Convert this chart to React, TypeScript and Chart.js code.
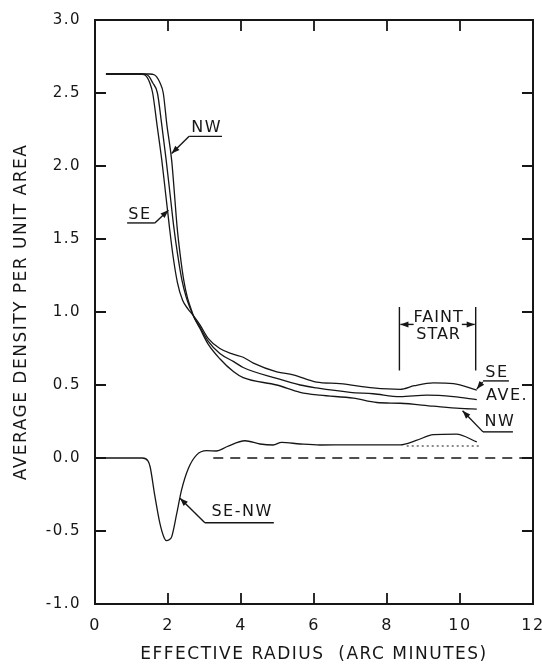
import React, { useEffect, useRef } from "react";
import { Chart, registerables } from "chart.js";

Chart.register(...registerables);

// ---- data ----
const xTickValues = [0, 2, 4, 6, 8, 10, 12];
const yTickValues = [-1.0, -0.5, 0.0, 0.5, 1.0, 1.5, 2.0, 2.5, 3.0];

const radiusSE = [0.3, 1.2, 1.35, 1.42, 1.5, 1.58, 1.7, 1.83, 1.94, 2.04, 2.14, 2.26, 2.4, 2.55, 2.68, 2.88, 3.1, 3.42, 3.8, 4.06, 4.34, 4.98, 5.43, 6.07, 6.71, 7.62, 8.36, 8.75, 9.27, 9.82, 10.46];
const densitySE = [2.63, 2.63, 2.625, 2.61, 2.57, 2.5, 2.28, 2.04, 1.8, 1.58, 1.38, 1.2, 1.08, 1.02, 0.98, 0.91, 0.82, 0.75, 0.71, 0.69, 0.65, 0.59, 0.57, 0.52, 0.51, 0.48, 0.47, 0.495, 0.515, 0.51, 0.465];

const radiusAVE = [0.3, 1.3, 1.42, 1.49, 1.58, 1.71, 1.83, 1.95, 2.06, 2.16, 2.26, 2.38, 2.5, 2.6, 2.7, 2.88, 3.1, 3.42, 3.8, 4.06, 4.98, 5.62, 6.07, 6.99, 7.62, 8.36, 9.09, 9.82, 10.46];
const densityAVE = [2.63, 2.63, 2.625, 2.61, 2.57, 2.5, 2.28, 2.04, 1.8, 1.58, 1.4, 1.22, 1.1, 1.03, 0.97, 0.895, 0.8, 0.715, 0.66, 0.62, 0.545, 0.5, 0.48, 0.45, 0.44, 0.42, 0.43, 0.42, 0.4];

const radiusNW = [0.3, 1.5, 1.62, 1.69, 1.78, 1.87, 1.97, 2.1, 2.18, 2.25, 2.33, 2.43, 2.53, 2.62, 2.72, 2.88, 3.1, 3.42, 3.8, 4.06, 4.98, 5.62, 6.16, 7.08, 7.72, 8.36, 9.27, 10.0, 10.46];
const densityNW = [2.63, 2.63, 2.625, 2.61, 2.57, 2.5, 2.28, 2.04, 1.8, 1.58, 1.4, 1.22, 1.1, 1.03, 0.96, 0.885, 0.78, 0.68, 0.59, 0.55, 0.5, 0.45, 0.43, 0.41, 0.38, 0.375, 0.355, 0.34, 0.335];

const radiusDiff = [0.3, 1.3, 1.45, 1.51, 1.64, 1.78, 1.9, 1.96, 2.03, 2.1, 2.24, 2.37, 2.56, 2.78, 3.06, 3.33, 3.61, 4.11, 4.52, 4.88, 5.11, 5.62, 6.16, 7.0, 8.36, 8.8, 9.27, 9.9, 10.46];
const densityDiff = [0, 0, -0.02, -0.06, -0.26, -0.45, -0.55, -0.566, -0.56, -0.54, -0.38, -0.22, -0.07, 0.02, 0.05, 0.048, 0.077, 0.118, 0.096, 0.089, 0.107, 0.096, 0.089, 0.09, 0.09, 0.12, 0.16, 0.164, 0.11];

const radiusCorrected = [8.54, 10.55];
const densityCorrected = [0.082, 0.082];

const radiusZero = [3.24, 12];
const densityZero = [0, 0];

const FONT = '"DejaVu Sans", "Liberation Sans", sans-serif';
const INK = "#161616";

const zip = (xs: number[], ys: number[]) => xs.map((x, i) => ({ x, y: ys[i] }));

// annotation anchors in data units
type Label = {
  text: string;
  x: number;
  y: number;
  underline?: [number, number, number];
  arrow?: [number, number, number, number];
};
const curveLabels: Label[] = [
  { text: "NW", x: 3.04, y: 2.262, underline: [2.58, 3.48, 2.203], arrow: [2.58, 2.203, 2.1, 2.085] },
  { text: "SE", x: 1.21, y: 1.666, underline: [0.88, 1.64, 1.61], arrow: [1.64, 1.61, 2.01, 1.697] },
  { text: "SE", x: 10.99, y: 0.581, underline: [10.63, 11.34, 0.528], arrow: [10.62, 0.521, 10.46, 0.472] },
  { text: "AVE.", x: 11.27, y: 0.424 },
  { text: "NW", x: 11.07, y: 0.246, underline: [10.63, 11.45, 0.179], arrow: [10.63, 0.179, 10.07, 0.323] },
  { text: "SE-NW", x: 4.01, y: -0.367, underline: [3.01, 4.9, -0.443], arrow: [3.01, -0.443, 2.33, -0.276] },
];
const faintStar = { x1: 8.34, x2: 10.43, yTop: 1.035, yBottom: 0.6, yArrow: 0.915, xTextL: 8.73, xTextR: 10.05, xText: 9.4, yLine1: 0.96, yLine2: 0.845 };

function drawArrow(ctx: CanvasRenderingContext2D, x1: number, y1: number, x2: number, y2: number) {
  ctx.beginPath();
  ctx.moveTo(x1, y1);
  ctx.lineTo(x2, y2);
  ctx.stroke();
  const a = Math.atan2(y2 - y1, x2 - x1);
  const L = 8, W = 3;
  ctx.beginPath();
  ctx.moveTo(x2, y2);
  ctx.lineTo(x2 - L * Math.cos(a) + W * Math.sin(a), y2 - L * Math.sin(a) - W * Math.cos(a));
  ctx.lineTo(x2 - L * Math.cos(a) - W * Math.sin(a), y2 - L * Math.sin(a) + W * Math.cos(a));
  ctx.closePath();
  ctx.fill();
}

// widen lettering (stencil style) for scale texts
const spacingPlugin = {
  id: "spacingPlugin",
  beforeDraw(chart: any) {
    (chart.ctx as any).letterSpacing = "1.5px";
  },
  beforeDatasetsDraw(chart: any) {
    (chart.ctx as any).letterSpacing = "0px";
  },
};

const framePlugin = {
  id: "framePlugin",
  afterDraw(chart: any) {
    const { ctx, chartArea } = chart;
    const xs = chart.scales.x;
    const ys = chart.scales.y;
    const { left, right, top, bottom } = chartArea;
    ctx.save();
    (ctx as any).letterSpacing = "0px";
    ctx.strokeStyle = INK;
    ctx.fillStyle = INK;
    ctx.lineWidth = 2;
    ctx.strokeRect(left, top, right - left, bottom - top);
    const TL = 11;
    ctx.lineWidth = 1.8;
    xs.ticks.forEach((t: any) => {
      const px = xs.getPixelForValue(t.value);
      if (Math.abs(px - left) < 2 || Math.abs(px - right) < 2) return;
      ctx.beginPath();
      ctx.moveTo(px, bottom);
      ctx.lineTo(px, bottom - TL);
      ctx.moveTo(px, top);
      ctx.lineTo(px, top + TL);
      ctx.stroke();
    });
    ys.ticks.forEach((t: any) => {
      const py = ys.getPixelForValue(t.value);
      if (Math.abs(py - top) < 2 || Math.abs(py - bottom) < 2) return;
      ctx.beginPath();
      ctx.moveTo(left, py);
      ctx.lineTo(left + TL, py);
      ctx.moveTo(right, py);
      ctx.lineTo(right - TL, py);
      ctx.stroke();
    });

    // labels
    ctx.font = `16px ${FONT}`;
    ctx.textAlign = "center";
    ctx.textBaseline = "middle";
    ctx.lineWidth = 1.4;
    const X = (v: number) => xs.getPixelForValue(v);
    const Y = (v: number) => ys.getPixelForValue(v);
    curveLabels.forEach((l) => {
      (ctx as any).letterSpacing = "1.5px";
      ctx.fillText(l.text, X(l.x) + 0.75, Y(l.y));
      (ctx as any).letterSpacing = "0px";
      if (l.underline) {
        ctx.beginPath();
        ctx.moveTo(X(l.underline[0]), Y(l.underline[2]));
        ctx.lineTo(X(l.underline[1]), Y(l.underline[2]));
        ctx.stroke();
      }
      if (l.arrow) {
        drawArrow(ctx, X(l.arrow[0]), Y(l.arrow[1]), X(l.arrow[2]), Y(l.arrow[3]));
      }
    });

    // faint star bracket
    const f = faintStar;
    ctx.beginPath();
    ctx.moveTo(X(f.x1), Y(f.yTop));
    ctx.lineTo(X(f.x1), Y(f.yBottom));
    ctx.moveTo(X(f.x2), Y(f.yTop));
    ctx.lineTo(X(f.x2), Y(f.yBottom));
    ctx.stroke();
    drawArrow(ctx, X(f.xTextL), Y(f.yArrow), X(f.x1) + 1, Y(f.yArrow));
    drawArrow(ctx, X(f.xTextR), Y(f.yArrow), X(f.x2) - 1, Y(f.yArrow));
    (ctx as any).letterSpacing = "1px";
    ctx.fillText("FAINT", X(f.xText) + 0.5, Y(f.yLine1));
    ctx.fillText("STAR", X(f.xText) + 0.5, Y(f.yLine2));
    ctx.restore();
  },
};

export default function App() {
  const ref = useRef<HTMLCanvasElement | null>(null);
  useEffect(() => {
    if (!ref.current) return;
    const lineBase = {
      borderColor: INK,
      borderWidth: 1.3,
      pointRadius: 0,
      fill: false,
      cubicInterpolationMode: "monotone" as const,
    };
    const chart = new Chart(ref.current, {
      type: "line",
      data: {
        datasets: [
          { ...lineBase, label: "SE", data: zip(radiusSE, densitySE) },
          { ...lineBase, label: "AVE.", data: zip(radiusAVE, densityAVE) },
          { ...lineBase, label: "NW", data: zip(radiusNW, densityNW) },
          { ...lineBase, label: "SE-NW", data: zip(radiusDiff, densityDiff) },
          { ...lineBase, label: "corrected", data: zip(radiusCorrected, densityCorrected), borderDash: [2, 3], borderWidth: 1.1 },
          { ...lineBase, label: "zero", data: zip(radiusZero, densityZero), borderDash: [10, 7], borderWidth: 1.6 },
        ],
      },
      options: {
        animation: false,
        responsive: false,
        devicePixelRatio: 1,
        layout: { padding: { left: 0, top: 20, right: 0, bottom: 0 } },
        plugins: { legend: { display: false }, tooltip: { enabled: false } },
        scales: {
          x: {
            type: "linear",
            min: 0,
            max: 12,
            afterBuildTicks: (s: any) => {
              s.ticks = xTickValues.map((v) => ({ value: v }));
            },
            afterFit: (s: any) => {
              s.height = 61;
              s.paddingRight = 9;
              s.paddingLeft = 0;
            },
            grid: { display: false },
            border: { display: false },
            ticks: { color: INK, font: { family: FONT, size: 16 }, padding: 4, maxRotation: 0, callback: (v: any) => String(v) },
            title: {
              display: true,
              text: "EFFECTIVE RADIUS  (ARC MINUTES)",
              color: INK,
              font: { family: FONT, size: 17 },
              padding: { top: 0, bottom: 0 },
            },
          },
          y: {
            type: "linear",
            min: -1,
            max: 3,
            afterBuildTicks: (s: any) => {
              s.ticks = yTickValues.map((v) => ({ value: v }));
            },
            afterFit: (s: any) => {
              s.width = 95;
            },
            grid: { display: false },
            border: { display: false },
            ticks: { color: INK, font: { family: FONT, size: 15 }, padding: 6, callback: (v: any) => Number(v).toFixed(1) },
            title: {
              display: true,
              text: "AVERAGE DENSITY PER UNIT AREA",
              color: INK,
              font: { family: FONT, size: 17 },
              padding: { top: 11, bottom: 0 },
            },
          },
        },
      },
      plugins: [spacingPlugin, framePlugin],
    });
    return () => chart.destroy();
  }, []);
  return (
    <div style={{ position: "fixed", left: 0, top: 0, width: 542, height: 665, background: "#fff" }}>
      <canvas ref={ref} width={542} height={665} />
    </div>
  );
}
